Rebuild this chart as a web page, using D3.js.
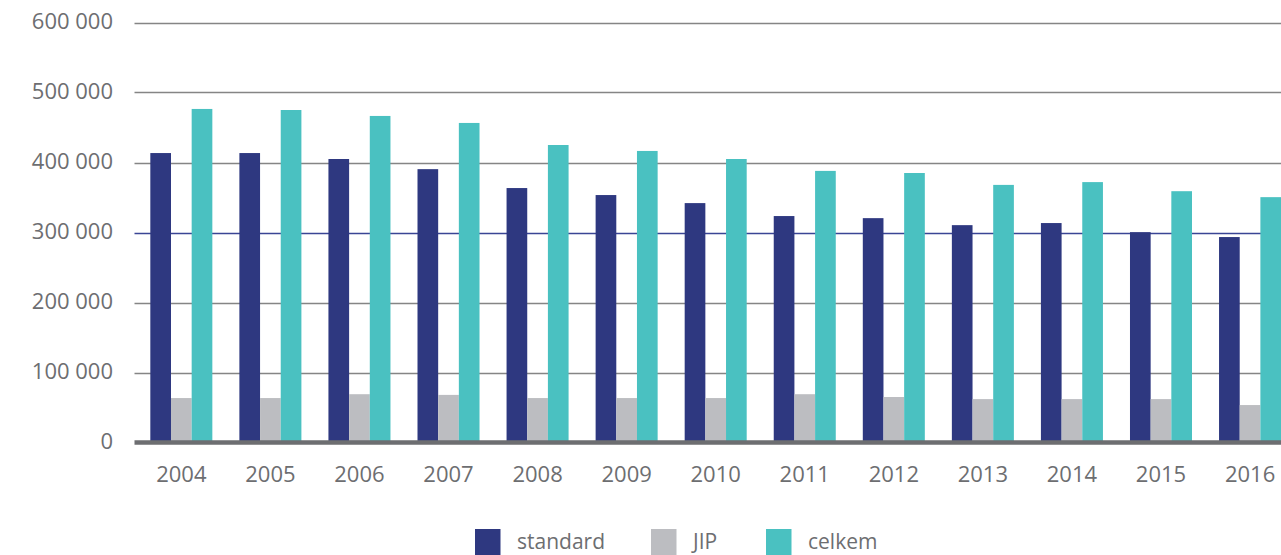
<!DOCTYPE html>
<html>
<head>
<meta charset="utf-8">
<script src="https://cdn.jsdelivr.net/npm/d3@7"></script>
<style>
    html, body { margin: 0; padding: 0; background: #fff; overflow: hidden; }
    svg text { font-family: "Open Sans", "Noto Sans", sans-serif; fill: #6d6e71; }
</style>
</head>
<body>
<svg id="chart" width="1281" height="555"></svg>
<script>
// years on the x axis
var years = ["2004", "2005", "2006", "2007", "2008", "2009", "2010",
             "2011", "2012", "2013", "2014", "2015", "2016"];

// series values
var standard = [413500, 413500, 405000, 390500, 363500, 353500, 342000,
                323500, 320500, 310500, 313500, 300500, 293500];
var jip      = [63500, 63500, 69000, 68000, 63500, 63500, 63500,
                69000, 65000, 62000, 62000, 62000, 53500];
var celkem   = [476500, 475000, 466500, 456500, 425000, 416500, 405000,
                388000, 385000, 368000, 372000, 359000, 350500];

var seriesNames = ["standard", "JIP", "celkem"];
var seriesColors = ["#2e3880", "#bcbdc1", "#4ac1c1"];
var yTicks = [0, 100000, 200000, 300000, 400000, 500000, 600000];

var setting = {
    plotLeft: 134.5,
    bandStart: 136.8,
    bandStep: 89.06,
    yTop: 22.5,
    yBottom: 442.5,
    legendX: [475, 651, 766]    // swatch left edges
};

var svg = d3.select("#chart");
var width = +svg.attr("width");

var x0 = d3.scaleBand()
    .domain(years)
    .range([setting.bandStart, setting.bandStart + years.length * setting.bandStep])
    .paddingInner(0.3036)
    .paddingOuter(0.1518);

var x1 = d3.scaleBand()
    .domain(seriesNames)
    .range([0, x0.bandwidth()])
    .padding(0);

var y = d3.scaleLinear()
    .domain([0, 600000])
    .range([setting.yBottom, setting.yTop]);

// thousands with a space, as in the original
function fmt(v) {
    return d3.format(",")(v).replace(/,/g, " ");
}

// gridlines (300 000 is drawn in navy in the original)
svg.append("g")
    .selectAll("line")
    .data(yTicks.filter(function (d) { return d > 0; }))
    .enter()
    .append("line")
    .attr("x1", setting.plotLeft)
    .attr("x2", width)
    .attr("y1", function (d) { return Math.round(y(d)) + 0.5; })
    .attr("y2", function (d) { return Math.round(y(d)) + 0.5; })
    .attr("stroke", function (d) { return d == 300000 ? "#3a4595" : "#858585"; })
    .attr("stroke-width", 1.3);

// y axis labels
var yAxis = d3.axisLeft(y)
    .tickValues(yTicks)
    .tickFormat(fmt)
    .tickSize(0)
    .tickPadding(0);

var gy = svg.append("g")
    .attr("transform", "translate(113,0)")
    .call(yAxis);
gy.select(".domain").remove();
gy.selectAll("text")
    .attr("font-size", "22px")
    .attr("fill", "#6d6e71")
    .attr("font-family", null)
    .attr("dy", "0.26em");

// bars
var rows = years.map(function (yr, i) {
    return {year: yr, values: [standard[i], jip[i], celkem[i]]};
});

svg.append("g")
    .selectAll("g")
    .data(rows)
    .enter()
    .append("g")
    .attr("transform", function (d) { return "translate(" + x0(d.year) + ",0)"; })
    .selectAll("rect")
    .data(function (d) {
        return d.values.map(function (v, k) { return {name: seriesNames[k], value: v, color: seriesColors[k]}; });
    })
    .enter()
    .append("rect")
    .attr("x", function (d) { return x1(d.name); })
    .attr("width", x1.bandwidth())
    .attr("y", function (d) { return y(d.value); })
    .attr("height", function (d) { return y(0) - y(d.value); })
    .attr("fill", function (d) { return d.color; });

// thick base line
svg.append("line")
    .attr("x1", setting.plotLeft)
    .attr("x2", width)
    .attr("y1", y(0))
    .attr("y2", y(0))
    .attr("stroke", "#6d6e71")
    .attr("stroke-width", 4.5);

// x axis labels
var xAxis = d3.axisBottom(x0)
    .tickSize(0)
    .tickPadding(0);

var gx = svg.append("g")
    .attr("transform", "translate(0,482)")
    .call(xAxis);
gx.select(".domain").remove();
gx.selectAll("text")
    .attr("font-size", "22px")
    .attr("fill", "#6d6e71")
    .attr("font-family", null)
    .attr("y", 0)
    .attr("dy", 0);

// legend
var legend = svg.append("g")
    .selectAll("g")
    .data(seriesNames)
    .enter()
    .append("g")
    .attr("transform", function (d, k) { return "translate(" + setting.legendX[k] + ",0)"; });

legend.append("rect")
    .attr("x", 0)
    .attr("y", 529)
    .attr("width", 25.5)
    .attr("height", 26)
    .attr("fill", function (d, k) { return seriesColors[k]; });

legend.append("text")
    .attr("x", 42)
    .attr("y", 548.5)
    .attr("font-size", "21px")
    .text(function (d) { return d; });
</script>
</body>
</html>
